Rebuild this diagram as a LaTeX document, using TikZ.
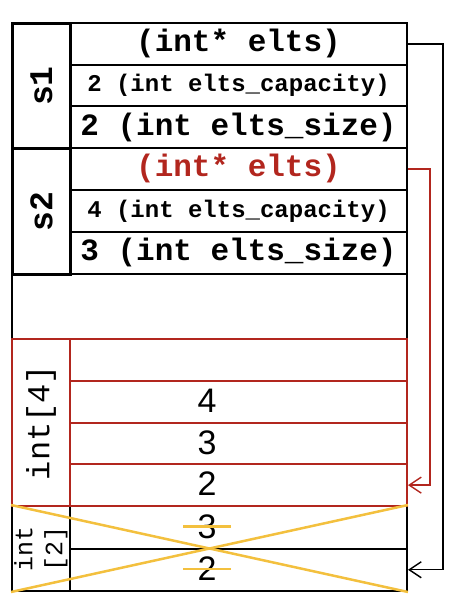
\documentclass[tikz,border=0pt]{standalone}
\usepackage{fontspec}
\setmonofont{Liberation Mono}
\newfontfamily\sansdig{Liberation Sans}
\usetikzlibrary{arrows.meta}
\definecolor{memred}{RGB}{178,38,30}
\definecolor{xyellow}{RGB}{243,192,62}
\begin{document}
\begin{tikzpicture}[x=1pt,y=-1pt,
  cell/.style={draw=black, line width=2pt, minimum width=337pt, minimum height=41.67pt,
    inner sep=0pt, anchor=north west, font=\ttfamily\bfseries\fontsize{31}{36}\selectfont},
  capcell/.style={cell, font=\ttfamily\bfseries\fontsize{24}{28}\selectfont},
  redcell/.style={cell, draw=memred, minimum height=41.75pt},
  lowcell/.style={cell, minimum height=42.5pt},
  labbox/.style={draw=black, line width=3pt, minimum width=58pt, inner sep=0pt, anchor=north west},
  labtext/.style={rotate=90, inner sep=0pt, font=\ttfamily\bfseries\fontsize{33}{36}\selectfont},
  digit/.style={inner sep=0pt, font=\sansdig\fontsize{34}{36}\selectfont},
  strike/.style={digit, inner xsep=14pt},
  arr/.style={line width=1.4pt, -{Straight Barb[length=12pt,width=16pt]}},
  xline/.style={draw=xyellow, line width=2.5pt}
]
\useasboundingbox (0,0) rectangle (460,616);
% s1
\node[labbox, minimum height=125pt] (s1box) at (11,22) {};
\node[labtext] (s1lab) at (s1box.center) {s1};
\node[cell] (s1e) at (69,22) {(int* elts)};
\node[capcell] (s1c) at (69,63.67) {2 (int elts\_capacity)};
\node[cell] (s1s) at (69,105.33) {2 (int elts\_size)};
% s2
\node[labbox, minimum height=126pt] (s2box) at (11,147) {};
\node[labtext] (s2lab) at (s2box.center) {s2};
\node[cell, text=memred] (s2e) at (69,147) {(int* elts)};
\node[capcell] (s2c) at (69,189) {4 (int elts\_capacity)};
\node[cell] (s2s) at (69,231) {3 (int elts\_size)};
% gap
\node[cell, minimum width=395pt, minimum height=65pt] (gap) at (11,273) {};
% int[2]
\node[labbox, line width=2pt, minimum height=85pt] (i2box) at (11,505) {};
\node[rotate=90, inner sep=0pt, align=center, font=\ttfamily\fontsize{25}{30}\selectfont] (i2lab) at (i2box.center) {int\\{}[2]};
\node[lowcell] (i2a) at (69,505) {};
\node[lowcell] (i2b) at (69,547.5) {};
\node[digit] (d3b) at (207,526.5) {3};
\node[digit] (d2b) at (207,569) {2};
% int[4]
\node[labbox, draw=memred, line width=2pt, minimum height=167pt] (i4box) at (11,338) {};
\node[rotate=90, inner sep=0pt, font=\ttfamily\fontsize{32}{36}\selectfont] (i4lab) at (i4box.center) {int[4]};
\node[redcell] (a1) at (69,338) {};
\node[redcell] (a2) at (69,379.75) {};
\node[redcell] (a3) at (69,421.5) {};
\node[redcell] (a4) at (69,463.25) {};
\node[digit] (d4) at (207,400.6) {4};
\node[digit] (d3) at (207,442.4) {3};
\node[digit] (d2) at (207,484.1) {2};
% arrows
\draw[arr] (s1e.east) -- ++(35,0) |- (i2b.east);
\draw[arr, memred] (s2e.east) -- ++(22,0) |- (a4.east);
% cross-out
\draw[xline] (i2box.north west) -- (i2b.south east);
\draw[xline] (i2box.south west) -- (i2a.north east);
\node[strike] (x3) at (d3b.center) {\phantom{3}};
\node[strike] (x2) at (d2b.center) {\phantom{2}};
\draw[xline] (x3.west) -- (x3.east);
\draw[xline] (x2.west) -- (x2.east);
\end{tikzpicture}
\end{document}
